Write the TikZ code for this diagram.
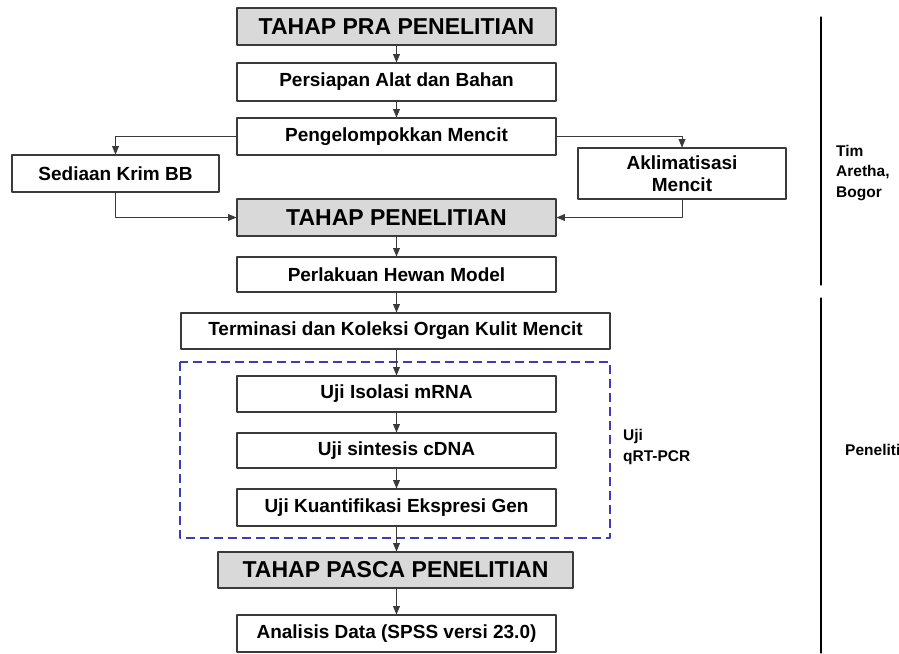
\documentclass[tikz,border=0pt]{standalone}
\usepackage{fontspec}
\setmainfont{Liberation Sans}
\usetikzlibrary{arrows}
\definecolor{boxgray}{HTML}{D9D9D9}
\definecolor{boxline}{HTML}{3A3A3A}
\definecolor{qpcrblue}{HTML}{3C3CB4}
\tikzset{
  stepbox/.style={draw=boxline, line width=1.1pt, fill=white, minimum width=319, minimum height=37,
    inner sep=0pt, font=\fontsize{19}{22}\selectfont\bfseries},
  phasebox/.style={stepbox, fill=boxgray, font=\fontsize{23}{26}\selectfont\bfseries},
  sidetext/.style={anchor=west, align=left, inner sep=0pt, font=\fontsize{15.5}{20.5}\selectfont\bfseries}
}

\begin{document}
\begin{tikzpicture}[line cap=round,line join=round,>=triangle 45,x=1pt,y=-1pt]
    \useasboundingbox (0,0) rectangle (899,653);

    % Dashed frame of the qRT-PCR steps
    \draw[qpcrblue, line width=1.1pt, line cap=butt, dash pattern=on 9pt off 5pt] (180,362) rectangle (610,538);

    % Main column
    \draw(396.5,26.5) node[phasebox] (pra) {TAHAP PRA PENELITIAN};
    \draw(396.5,82) node[stepbox, minimum height=38] (persiapan) {Persiapan Alat dan Bahan};
    \draw(396.5,136.5) node[stepbox] (kelompok) {Pengelompokkan Mencit};
    \draw(115.5,173.5) node[stepbox, minimum width=207] (sediaan) {Sediaan Krim BB};
    \draw(682,173.5) node[stepbox, minimum width=208, minimum height=51, align=center] (aklimatisasi) {Aklimatisasi\\Mencit};
    \draw(396.5,217.5) node[phasebox] (penelitian) {TAHAP PENELITIAN};
    \draw(396.5,274.5) node[stepbox, minimum height=35] (perlakuan) {Perlakuan Hewan Model};
    \draw(395.5,331) node[stepbox, minimum width=429, minimum height=36] (terminasi) {Terminasi dan Koleksi Organ Kulit Mencit};
    \draw(396.5,394) node[stepbox, minimum height=36] (isolasi) {Uji Isolasi mRNA};
    \draw(396.5,450.5) node[stepbox, minimum height=35] (sintesis) {Uji sintesis cDNA};
    \draw(396.5,507.5) node[stepbox] (kuantifikasi) {Uji Kuantifikasi Ekspresi Gen};
    \draw(395.5,570) node[phasebox, minimum width=355, minimum height=36] (pasca) {TAHAP PASCA PENELITIAN};
    \draw(396.5,633.5) node[stepbox] (analisis) {Analisis Data (SPSS versi 23.0)};

    % Edges
    \foreach \source/\target in {pra/persiapan, persiapan/kelompok, penelitian/perlakuan, perlakuan/terminasi,
        terminasi/isolasi, isolasi/sintesis, sintesis/kuantifikasi, kuantifikasi/pasca, pasca/analisis} {
            \draw[->, boxline, line width=0.9pt] (\source.south -| persiapan) -- (\target.north -| persiapan);
        }
    \draw[->, boxline, line width=0.9pt] (kelompok.west) -| (sediaan.north);
    \draw[->, boxline, line width=0.9pt] (kelompok.east) -| (aklimatisasi.north);
    \draw[->, boxline, line width=0.9pt] (sediaan.south) |- (penelitian.west);
    \draw[->, boxline, line width=0.9pt] (aklimatisasi.south) |- (penelitian.east);

    % Side notes
    \draw(623,447) node[sidetext] (qpcr) {Uji\\qRT-PCR};
    \draw(836,173) node[sidetext] (tim) {Tim\\Aretha,\\Bogor};
    \draw(845,450) node[sidetext] (peneliti) {Peneliti};
    \draw[black, line width=1.1pt] (821,17) coordinate (timtop) -- (821,285) coordinate (timbot);
    \draw[black, line width=1.1pt] (821,298) coordinate (pentop) -- (821,653) coordinate (penbot);
\end{tikzpicture}
\end{document}
